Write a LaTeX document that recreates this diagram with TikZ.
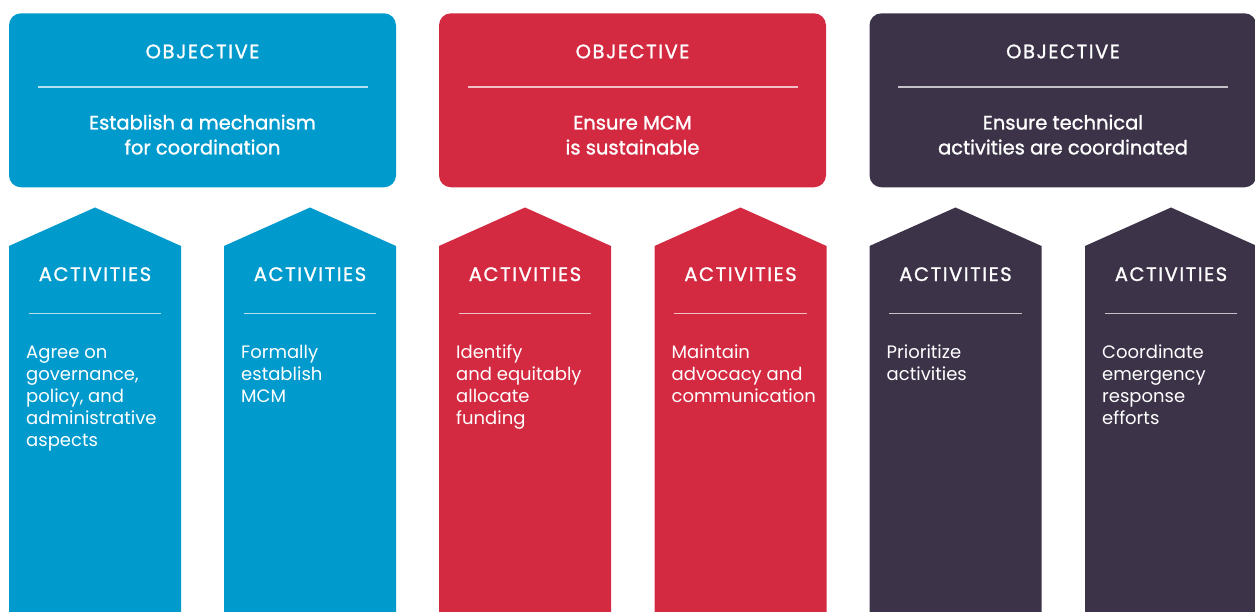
\documentclass[tikz,border=0pt]{standalone}
\usepackage{fontspec}
\setmainfont{Poppins}
\newfontfamily\medfont{Poppins}[FakeBold=1.2]
\newfontfamily\capfont{Poppins}[FakeBold=1.2, LetterSpace=8]
\definecolor{cblue}{HTML}{009ACD}
\definecolor{cred}{HTML}{D42A41}
\definecolor{cdark}{HTML}{3C3349}
\tikzset{
  objbox/.style={rectangle, rounded corners=12pt, minimum width=387pt, minimum height=174pt, inner sep=0pt},
  objhead/.style={anchor=base, inner sep=0pt, text=white, font=\capfont\fontsize{19.5}{23}\selectfont},
  objbody/.style={anchor=north, inner sep=0pt, align=center, text=white, font=\medfont\fontsize{19.5}{24.9}\selectfont},
  acthead/.style={anchor=base, inner sep=0pt, text=white, font=\capfont\fontsize{19.5}{23}\selectfont},
  actbody/.style={anchor=north west, inner sep=0pt, align=left, text=white, font=\fontsize{18}{22.1}\selectfont},
  divline/.style={draw=white, draw opacity=0.7, line width=1.1pt},
}
\newcommand\objcol[4]{% center x, color, name, text
  \node[objbox, fill=#2] (#3box) at (#1,100.3) {};
  \node[objhead] (#3head) at (#1,58.3) {OBJECTIVE};
  \draw[divline] (#1-165,87) -- (#1+165,87);
  \node[objbody] (#3body) at (#1,129.3-18) {\rule{0pt}{18pt}#4};
}
\newcommand\actcol[4]{% left x, color, name, text
  \fill[#2] (#1,612) -- (#1,246) -- (#1+86,207.5) -- (#1+172,246) -- (#1+172,612) -- cycle;
  \node[acthead] (#3head) at (#1+86,281) {ACTIVITIES};
  \draw[divline] (#1+19.5,313.7) -- (#1+152,313.7);
  \node[actbody] (#3body) at (#1+17,358.3-16) {\rule{0pt}{16pt}#4};
}
\begin{document}
\begin{tikzpicture}[x=1pt,y=-1pt]
\useasboundingbox (0,0) rectangle (1255,612);
\objcol{202.5}{cblue}{oa}{Establish a mechanism\\for coordination}
\objcol{632.5}{cred}{ob}{Ensure MCM\\is sustainable}
\objcol{1063}{cdark}{oc}{Ensure technical\\activities are coordinated}
\actcol{9}{cblue}{aa}{Agree on\\governance,\\policy, and\\administrative\\aspects}
\actcol{224}{cblue}{ab}{Formally\\establish\\MCM}
\actcol{439}{cred}{ac}{Identify\\and equitably\\allocate\\funding}
\actcol{654.5}{cred}{ad}{Maintain\\advocacy and\\communication}
\actcol{869.5}{cdark}{ae}{Prioritize\\activities}
\actcol{1085}{cdark}{af}{Coordinate\\emergency\\response\\efforts}
\end{tikzpicture}
\end{document}
